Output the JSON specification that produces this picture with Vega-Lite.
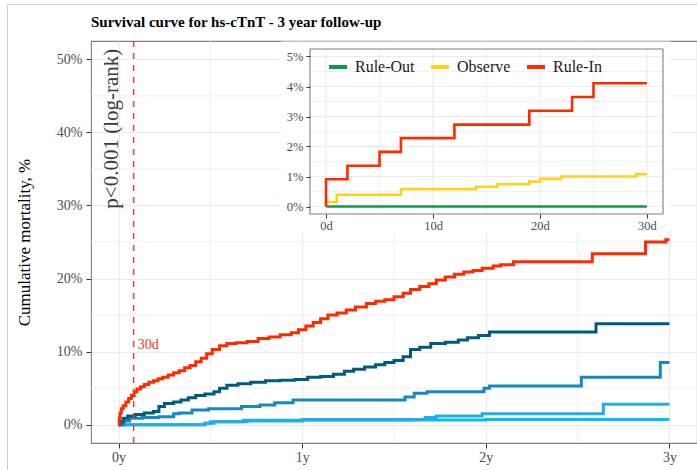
{
  "$schema": "https://vega.github.io/schema/vega-lite/v6.json",
  "width": 606,
  "height": 402,
  "autosize": {"type": "none"},
  "padding": {"left": 91, "top": 41, "right": 0, "bottom": 27},
  "background": "white",
  "config": {
    "font": "Liberation Serif",
    "title": {"font": "Liberation Serif", "fontWeight": 700},
    "view": {"stroke": "#7f7f7f", "strokeWidth": 1.1}
  },
  "title": {
    "text": "Survival curve for hs-cTnT - 3 year follow-up",
    "anchor": "start",
    "frame": "group",
    "font": "Liberation Serif",
    "fontSize": 15,
    "fontWeight": 700,
    "color": "#000000",
    "offset": 11,
    "dy": 37
  },
  "datasets": {
    "km": [
      {"t": 0, "pct": 0, "grp": "q1"}, {"t": 0.47, "pct": 0.2, "grp": "q1"}, {"t": 0.52, "pct": 0.4, "grp": "q1"},
      {"t": 0.7, "pct": 0.5, "grp": "q1"}, {"t": 1.0, "pct": 0.6, "grp": "q1"}, {"t": 1.6, "pct": 0.65, "grp": "q1"},
      {"t": 2.0, "pct": 0.7, "grp": "q1"}, {"t": 3.0, "pct": 0.7, "grp": "q1"},

      {"t": 0, "pct": 0, "grp": "q2"}, {"t": 0.47, "pct": 0.2, "grp": "q2"}, {"t": 0.5, "pct": 0.4, "grp": "q2"},
      {"t": 0.68, "pct": 0.6, "grp": "q2"}, {"t": 1.0, "pct": 0.7, "grp": "q2"}, {"t": 1.67, "pct": 1.0, "grp": "q2"},
      {"t": 1.73, "pct": 1.2, "grp": "q2"}, {"t": 1.98, "pct": 1.5, "grp": "q2"}, {"t": 2.64, "pct": 2.8, "grp": "q2"},
      {"t": 3.0, "pct": 2.8, "grp": "q2"},

      {"t": 0, "pct": 0, "grp": "q3"}, {"t": 0.03, "pct": 0.5, "grp": "q3"}, {"t": 0.06, "pct": 0.9, "grp": "q3"},
      {"t": 0.13, "pct": 1.0, "grp": "q3"}, {"t": 0.22, "pct": 1.1, "grp": "q3"}, {"t": 0.3, "pct": 1.5, "grp": "q3"},
      {"t": 0.33, "pct": 1.6, "grp": "q3"}, {"t": 0.4, "pct": 2.0, "grp": "q3"}, {"t": 0.49, "pct": 2.2, "grp": "q3"},
      {"t": 0.67, "pct": 2.5, "grp": "q3"}, {"t": 0.77, "pct": 2.7, "grp": "q3"}, {"t": 0.85, "pct": 3.0, "grp": "q3"},
      {"t": 0.95, "pct": 3.4, "grp": "q3"}, {"t": 1.56, "pct": 3.8, "grp": "q3"}, {"t": 1.61, "pct": 4.3, "grp": "q3"},
      {"t": 1.68, "pct": 4.5, "grp": "q3"}, {"t": 1.99, "pct": 5.0, "grp": "q3"}, {"t": 2.02, "pct": 5.3, "grp": "q3"},
      {"t": 2.52, "pct": 6.5, "grp": "q3"}, {"t": 2.95, "pct": 8.5, "grp": "q3"}, {"t": 3.0, "pct": 8.5, "grp": "q3"},

      {"t": 0, "pct": 0, "grp": "q4"}, {"t": 0.01, "pct": 0.4, "grp": "q4"}, {"t": 0.025, "pct": 0.9, "grp": "q4"},
      {"t": 0.05, "pct": 1.2, "grp": "q4"}, {"t": 0.09, "pct": 1.4, "grp": "q4"}, {"t": 0.14, "pct": 1.6, "grp": "q4"},
      {"t": 0.19, "pct": 1.8, "grp": "q4"}, {"t": 0.22, "pct": 2.5, "grp": "q4"}, {"t": 0.25, "pct": 2.9, "grp": "q4"},
      {"t": 0.3, "pct": 3.1, "grp": "q4"}, {"t": 0.34, "pct": 3.4, "grp": "q4"}, {"t": 0.38, "pct": 3.7, "grp": "q4"},
      {"t": 0.42, "pct": 4.0, "grp": "q4"}, {"t": 0.47, "pct": 4.2, "grp": "q4"}, {"t": 0.52, "pct": 4.5, "grp": "q4"},
      {"t": 0.55, "pct": 5.0, "grp": "q4"}, {"t": 0.59, "pct": 5.4, "grp": "q4"}, {"t": 0.65, "pct": 5.6, "grp": "q4"},
      {"t": 0.72, "pct": 5.8, "grp": "q4"}, {"t": 0.8, "pct": 6.0, "grp": "q4"}, {"t": 0.88, "pct": 6.1, "grp": "q4"},
      {"t": 0.96, "pct": 6.2, "grp": "q4"}, {"t": 1.03, "pct": 6.5, "grp": "q4"}, {"t": 1.1, "pct": 6.6, "grp": "q4"},
      {"t": 1.17, "pct": 6.9, "grp": "q4"}, {"t": 1.23, "pct": 7.3, "grp": "q4"}, {"t": 1.28, "pct": 7.6, "grp": "q4"},
      {"t": 1.34, "pct": 7.9, "grp": "q4"}, {"t": 1.4, "pct": 8.2, "grp": "q4"}, {"t": 1.45, "pct": 8.5, "grp": "q4"},
      {"t": 1.5, "pct": 8.8, "grp": "q4"}, {"t": 1.55, "pct": 9.3, "grp": "q4"}, {"t": 1.59, "pct": 10.3, "grp": "q4"},
      {"t": 1.64, "pct": 10.6, "grp": "q4"}, {"t": 1.7, "pct": 11.1, "grp": "q4"}, {"t": 1.78, "pct": 11.3, "grp": "q4"},
      {"t": 1.85, "pct": 11.6, "grp": "q4"}, {"t": 1.9, "pct": 11.9, "grp": "q4"}, {"t": 1.96, "pct": 12.2, "grp": "q4"},
      {"t": 2.02, "pct": 12.7, "grp": "q4"}, {"t": 2.6, "pct": 13.8, "grp": "q4"}, {"t": 3.0, "pct": 13.8, "grp": "q4"},

      {"t": 0, "pct": 0, "grp": "q5"}, {"t": 0.004, "pct": 0.9, "grp": "q5"}, {"t": 0.008, "pct": 1.6, "grp": "q5"},
      {"t": 0.015, "pct": 2.2, "grp": "q5"}, {"t": 0.025, "pct": 2.6, "grp": "q5"}, {"t": 0.04, "pct": 3.1, "grp": "q5"},
      {"t": 0.055, "pct": 3.6, "grp": "q5"}, {"t": 0.07, "pct": 4.0, "grp": "q5"}, {"t": 0.085, "pct": 4.5, "grp": "q5"},
      {"t": 0.1, "pct": 4.9, "grp": "q5"}, {"t": 0.12, "pct": 5.2, "grp": "q5"}, {"t": 0.14, "pct": 5.5, "grp": "q5"},
      {"t": 0.165, "pct": 5.8, "grp": "q5"}, {"t": 0.19, "pct": 6.0, "grp": "q5"}, {"t": 0.215, "pct": 6.3, "grp": "q5"},
      {"t": 0.24, "pct": 6.5, "grp": "q5"}, {"t": 0.27, "pct": 6.8, "grp": "q5"}, {"t": 0.3, "pct": 7.1, "grp": "q5"},
      {"t": 0.33, "pct": 7.4, "grp": "q5"}, {"t": 0.36, "pct": 7.8, "grp": "q5"}, {"t": 0.39, "pct": 8.1, "grp": "q5"},
      {"t": 0.42, "pct": 8.6, "grp": "q5"}, {"t": 0.45, "pct": 9.1, "grp": "q5"}, {"t": 0.48, "pct": 9.7, "grp": "q5"},
      {"t": 0.51, "pct": 10.3, "grp": "q5"}, {"t": 0.55, "pct": 10.8, "grp": "q5"}, {"t": 0.59, "pct": 11.1, "grp": "q5"},
      {"t": 0.64, "pct": 11.2, "grp": "q5"}, {"t": 0.7, "pct": 11.4, "grp": "q5"}, {"t": 0.76, "pct": 11.8, "grp": "q5"},
      {"t": 0.82, "pct": 12.0, "grp": "q5"}, {"t": 0.88, "pct": 12.3, "grp": "q5"}, {"t": 0.94, "pct": 12.6, "grp": "q5"},
      {"t": 0.98, "pct": 13.0, "grp": "q5"}, {"t": 1.02, "pct": 13.5, "grp": "q5"}, {"t": 1.06, "pct": 14.0, "grp": "q5"},
      {"t": 1.1, "pct": 14.5, "grp": "q5"}, {"t": 1.14, "pct": 15.0, "grp": "q5"}, {"t": 1.19, "pct": 15.3, "grp": "q5"},
      {"t": 1.24, "pct": 15.7, "grp": "q5"}, {"t": 1.29, "pct": 16.1, "grp": "q5"}, {"t": 1.35, "pct": 16.6, "grp": "q5"},
      {"t": 1.4, "pct": 16.9, "grp": "q5"}, {"t": 1.45, "pct": 17.1, "grp": "q5"}, {"t": 1.5, "pct": 17.5, "grp": "q5"},
      {"t": 1.55, "pct": 18.0, "grp": "q5"}, {"t": 1.59, "pct": 18.5, "grp": "q5"}, {"t": 1.64, "pct": 18.9, "grp": "q5"},
      {"t": 1.69, "pct": 19.3, "grp": "q5"}, {"t": 1.73, "pct": 19.8, "grp": "q5"}, {"t": 1.78, "pct": 20.2, "grp": "q5"},
      {"t": 1.83, "pct": 20.6, "grp": "q5"}, {"t": 1.88, "pct": 20.9, "grp": "q5"}, {"t": 1.93, "pct": 21.1, "grp": "q5"},
      {"t": 1.98, "pct": 21.4, "grp": "q5"}, {"t": 2.04, "pct": 21.7, "grp": "q5"}, {"t": 2.08, "pct": 21.9, "grp": "q5"},
      {"t": 2.15, "pct": 22.3, "grp": "q5"}, {"t": 2.58, "pct": 23.4, "grp": "q5"}, {"t": 2.87, "pct": 25.0, "grp": "q5"},
      {"t": 2.98, "pct": 25.3, "grp": "q5"}, {"t": 3.0, "pct": 25.3, "grp": "q5"}
    ],
    "early": [
      {"day": 0, "pct": 0, "grp": "Rule-Out"}, {"day": 30, "pct": 0, "grp": "Rule-Out"},

      {"day": 0, "pct": 0, "grp": "Observe"}, {"day": 0, "pct": 0.15, "grp": "Observe"},
      {"day": 1, "pct": 0.39, "grp": "Observe"}, {"day": 7, "pct": 0.58, "grp": "Observe"},
      {"day": 14, "pct": 0.66, "grp": "Observe"}, {"day": 16, "pct": 0.74, "grp": "Observe"},
      {"day": 19, "pct": 0.83, "grp": "Observe"}, {"day": 20, "pct": 0.92, "grp": "Observe"},
      {"day": 22, "pct": 1.0, "grp": "Observe"}, {"day": 29, "pct": 1.08, "grp": "Observe"},
      {"day": 30, "pct": 1.08, "grp": "Observe"},

      {"day": 0, "pct": 0, "grp": "Rule-In"}, {"day": 0, "pct": 0.91, "grp": "Rule-In"},
      {"day": 2, "pct": 1.36, "grp": "Rule-In"}, {"day": 5, "pct": 1.82, "grp": "Rule-In"},
      {"day": 7, "pct": 2.28, "grp": "Rule-In"}, {"day": 12, "pct": 2.73, "grp": "Rule-In"},
      {"day": 19, "pct": 3.19, "grp": "Rule-In"}, {"day": 23, "pct": 3.65, "grp": "Rule-In"},
      {"day": 25, "pct": 4.11, "grp": "Rule-In"}, {"day": 30, "pct": 4.11, "grp": "Rule-In"}
    ],
    "yearMinor": [{"v": 0.5}, {"v": 1.5}, {"v": 2.5}],
    "pctMinor": [{"v": 5}, {"v": 15}, {"v": 25}, {"v": 35}, {"v": 45}],
    "dayGrid": [{"d": 0}, {"d": 5}, {"d": 10}, {"d": 15}, {"d": 20}, {"d": 25}, {"d": 30}],
    "pctGrid": [{"p": 0}, {"p": 0.5}, {"p": 1}, {"p": 1.5}, {"p": 2}, {"p": 2.5}, {"p": 3}, {"p": 3.5}, {"p": 4}, {"p": 4.5}, {"p": 5}]
  },
  "layer": [
    {
      "layer": [
        {
          "data": {"values": [{}]},
          "mark": {"type": "rect", "fill": "white", "fillOpacity": 0, "stroke": "#cccccc", "strokeWidth": 1},
          "encoding": {
            "x": {"datum": -0.605, "type": "quantitative"},
            "x2": {"datum": 3.5},
            "y": {"datum": -10, "type": "quantitative"},
            "y2": {"datum": 57.5}
          }
        },
        {
          "data": {"name": "yearMinor"},
          "mark": {"type": "rule", "color": "#ebebeb", "strokeWidth": 0.8},
          "encoding": {"x": {"field": "v", "type": "quantitative"}}
        },
        {
          "data": {"name": "pctMinor"},
          "mark": {"type": "rule", "color": "#ebebeb", "strokeWidth": 0.8},
          "encoding": {"y": {"field": "v", "type": "quantitative"}}
        },
        {
          "data": {"name": "km"},
          "mark": {"type": "line", "interpolate": "step-after", "strokeWidth": 3},
          "encoding": {
            "x": {
              "field": "t", "type": "quantitative",
              "scale": {"domain": [-0.15, 3.15], "nice": false, "zero": false},
              "axis": {
                "values": [0, 1, 2, 3],
                "labelExpr": "datum.value + 'y'",
                "title": null, "domain": false,
                "grid": true, "gridColor": "#ebebeb", "gridWidth": 1.1,
                "tickColor": "#333333", "tickSize": 5,
                "labelFontSize": 14, "labelColor": "#4d4d4d", "labelPadding": 2
              }
            },
            "y": {
              "field": "pct", "type": "quantitative",
              "scale": {"domain": [-2.5, 52.5], "nice": false, "zero": false},
              "axis": {
                "values": [0, 10, 20, 30, 40, 50],
                "labelExpr": "datum.value + '%'",
                "title": "Cumulative mortality, %",
                "titleFontSize": 17, "titleFontWeight": "normal", "titleColor": "#000000",
                "titlePadding": 23,
                "domain": false,
                "grid": true, "gridColor": "#ebebeb", "gridWidth": 1.1,
                "tickColor": "#333333", "tickSize": 5,
                "labelFontSize": 14, "labelColor": "#4d4d4d", "labelPadding": 4
              }
            },
            "color": {
              "field": "grp", "type": "nominal",
              "scale": {"domain": ["q1", "q2", "q3", "q4", "q5"], "range": ["#00BFFF", "#26ACE3", "#1689BF", "#005B7F", "#FF2A00"]},
              "legend": null
            }
          }
        },
        {
          "data": {"values": [{}]},
          "mark": {"type": "rule", "color": "#FF3030", "strokeWidth": 1.4, "strokeDash": [6, 6]},
          "encoding": {"x": {"datum": 0.0822, "type": "quantitative"}}
        },
        {
          "data": {"values": [{}]},
          "mark": {"type": "text", "text": "30d", "align": "left", "baseline": "middle", "fontSize": 14, "color": "#FF3030"},
          "encoding": {
            "x": {"datum": 0.105, "type": "quantitative"},
            "y": {"datum": 10.9, "type": "quantitative"}
          }
        },
        {
          "data": {"values": [{}]},
          "mark": {"type": "text", "text": "p<0.001 (log-rank)", "angle": 270, "align": "center", "baseline": "middle", "fontSize": 21, "color": "#3a3a3a"},
          "encoding": {
            "x": {"datum": -0.035, "type": "quantitative"},
            "y": {"datum": 40.5, "type": "quantitative"}
          }
        }
      ]
    },
    {
      "layer": [
        {
          "data": {"values": [{}]},
          "mark": {"type": "rect", "fill": "white", "strokeWidth": 0},
          "encoding": {
            "x": {"datum": -4.2, "type": "quantitative", "scale": {"domain": [-1.5, 31.5], "range": [219, 572], "nice": false, "zero": false}},
            "x2": {"datum": 32.2},
            "y": {"datum": -0.84, "type": "quantitative", "scale": {"domain": [-0.25, 5.25], "range": [173, 8], "nice": false, "zero": false}},
            "y2": {"datum": 5.5}
          }
        },
        {
          "data": {"name": "dayGrid"},
          "mark": {"type": "rule", "color": "#ebebeb"},
          "encoding": {
            "x": {"field": "d", "type": "quantitative"},
            "y": {"datum": -0.25, "type": "quantitative"},
            "y2": {"datum": 5.25},
            "strokeWidth": {"condition": {"test": "datum.d % 10 === 0", "value": 1.1}, "value": 0.7}
          }
        },
        {
          "data": {"name": "pctGrid"},
          "mark": {"type": "rule", "color": "#ebebeb"},
          "encoding": {
            "y": {"field": "p", "type": "quantitative"},
            "x": {"datum": -1.5, "type": "quantitative"},
            "x2": {"datum": 31.5},
            "strokeWidth": {"condition": {"test": "datum.p % 1 === 0", "value": 1.1}, "value": 0.7}
          }
        },
        {
          "data": {"name": "early"},
          "mark": {"type": "line", "interpolate": "step-after", "strokeWidth": 2.6},
          "encoding": {
            "x": {
              "field": "day", "type": "quantitative",
              "axis": {
                "orient": "bottom", "offset": -229, "zindex": 1,
                "values": [0, 10, 20, 30],
                "labelExpr": "datum.value + 'd'",
                "title": null, "domain": false, "grid": false,
                "tickColor": "#333333", "tickSize": 4,
                "labelFontSize": 12.5, "labelColor": "#4d4d4d", "labelPadding": 1
              }
            },
            "y": {
              "field": "pct", "type": "quantitative",
              "axis": {
                "orient": "left", "offset": -219, "zindex": 1,
                "values": [0, 1, 2, 3, 4, 5],
                "labelExpr": "datum.value + '%'",
                "title": null, "domain": false, "grid": false,
                "tickColor": "#333333", "tickSize": 4,
                "labelFontSize": 12.5, "labelColor": "#4d4d4d", "labelPadding": 3
              }
            },
            "color": {
              "field": "grp", "type": "nominal",
              "scale": {"domain": ["Rule-Out", "Observe", "Rule-In"], "range": ["#0E9A48", "#FFD21A", "#FF2A00"]},
              "legend": {
                "orient": "none", "legendX": 236, "legendY": 15,
                "direction": "horizontal", "title": null, "padding": 0,
                "symbolType": "stroke", "symbolStrokeWidth": 4, "symbolSize": 324,
                "labelFontSize": 16, "labelColor": "#1a1a1a",
                "labelOffset": 6, "columnPadding": 8
              }
            }
          }
        },
        {
          "data": {"values": [{}]},
          "mark": {"type": "rect", "fill": "white", "fillOpacity": 0, "stroke": "#7f7f7f", "strokeWidth": 1.1},
          "encoding": {
            "x": {"datum": -1.5, "type": "quantitative"},
            "x2": {"datum": 31.5},
            "y": {"datum": -0.25, "type": "quantitative"},
            "y2": {"datum": 5.25}
          }
        }
      ]
    }
  ],
  "resolve": {"scale": {"x": "independent", "y": "independent", "color": "independent"}}
}
